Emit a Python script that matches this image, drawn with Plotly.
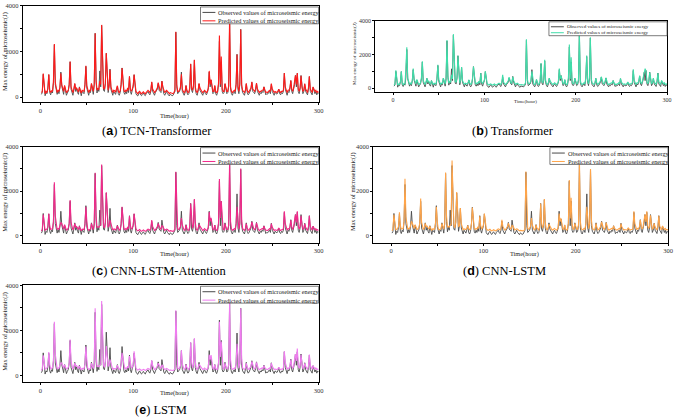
import plotly.graph_objects as go

W, H = 679, 418

hours = list(range(1, 301))

observed = [
    120, 200, 1000, 250, 60, 200, 150, 380, 980, 200,
    100, 250, 180, 650, 2300, 550, 200, 120, 280, 150,
    420, 1100, 480, 300, 120, 480, 250, 80, 180, 260,
    550, 1550, 350, 150, 80, 300, 580, 250, 380, 200,
    120, 450, 180, 60, 250, 200, 150, 550, 1350, 400,
    150, 80, 250, 200, 580, 250, 120, 550, 2800, 650,
    180, 380, 250, 1150, 450, 3150, 750, 300, 250, 600,
    1920, 550, 200, 450, 1230, 350, 150, 80, 250, 200,
    120, 280, 480, 150, 80, 200, 550, 1280, 450, 200,
    120, 250, 150, 380, 200, 900, 250, 120, 300, 450,
    980, 350, 150, 80, 50, 150, 200, 100, 60, 130,
    180, 100, 60, 150, 200, 250, 150, 100, 250, 650,
    250, 150, 80, 200, 250, 350, 600, 300, 250, 200,
    700, 350, 150, 80, 200, 250, 150, 100, 50, 130,
    100, 60, 80, 150, 250, 2850, 450, 150, 200, 250,
    400, 1100, 250, 150, 80, 200, 500, 200, 100, 150,
    350, 1450, 300, 200, 450, 1620, 350, 150, 80, 250,
    580, 300, 200, 150, 80, 200, 250, 150, 100, 200,
    350, 1100, 450, 750, 250, 150, 200, 480, 150, 80,
    200, 550, 2450, 450, 1550, 250, 150, 200, 580, 250,
    150, 200, 450, 3200, 350, 150, 80, 200, 250, 150,
    550, 1880, 350, 150, 550, 2980, 450, 200, 150, 80,
    250, 580, 200, 100, 150, 250, 350, 650, 250, 200,
    150, 300, 600, 250, 150, 80, 200, 150, 250, 200,
    450, 200, 100, 150, 130, 200, 250, 150, 560, 250,
    150, 80, 200, 150, 130, 200, 350, 150, 100, 200,
    150, 250, 1050, 350, 150, 80, 250, 200, 350, 720,
    250, 150, 350, 550, 950, 450, 1050, 250, 150, 350,
    950, 350, 150, 250, 560, 250, 150, 100, 350, 900,
    250, 150, 100, 430, 200, 150, 250, 100, 200, 150,
]

pred_tcn_transformer = [
    200, 250, 1030, 350, 150, 250, 200, 380, 1000, 300,
    200, 280, 250, 650, 2330, 650, 300, 200, 300, 250,
    420, 1050, 550, 380, 250, 520, 300, 200, 250, 300,
    550, 1565, 450, 250, 200, 350, 600, 350, 400, 300,
    220, 420, 250, 180, 300, 280, 250, 550, 1380, 500,
    250, 200, 300, 280, 600, 350, 250, 550, 2800, 750,
    300, 380, 350, 700, 550, 3170, 850, 400, 350, 600,
    1930, 650, 300, 500, 1200, 450, 250, 200, 300, 280,
    220, 320, 500, 250, 200, 280, 550, 1280, 550, 300,
    220, 300, 250, 400, 300, 910, 350, 250, 350, 500,
    990, 450, 250, 200, 150, 220, 250, 180, 150, 200,
    230, 180, 150, 200, 250, 300, 250, 200, 300, 670,
    350, 250, 200, 250, 300, 400, 640, 400, 300, 300,
    700, 450, 250, 200, 250, 300, 250, 200, 150, 200,
    180, 150, 150, 200, 300, 2870, 550, 250, 250, 300,
    450, 1000, 350, 250, 200, 250, 520, 300, 200, 220,
    400, 1460, 400, 300, 500, 1640, 450, 250, 200, 300,
    600, 400, 300, 250, 200, 250, 300, 250, 200, 250,
    400, 1150, 550, 770, 350, 250, 250, 520, 250, 200,
    250, 600, 2700, 550, 1780, 350, 250, 250, 600, 350,
    250, 250, 500, 3560, 450, 250, 200, 250, 300, 250,
    600, 1870, 450, 250, 600, 2970, 550, 300, 250, 200,
    300, 600, 300, 200, 250, 300, 400, 670, 350, 300,
    250, 350, 620, 350, 250, 200, 250, 250, 300, 300,
    450, 300, 200, 220, 200, 250, 300, 250, 590, 350,
    250, 200, 250, 230, 200, 250, 350, 250, 200, 250,
    250, 300, 1060, 450, 250, 200, 300, 300, 400, 740,
    350, 250, 400, 620, 960, 550, 1060, 350, 250, 400,
    940, 450, 250, 300, 590, 350, 250, 200, 400, 910,
    350, 250, 200, 450, 300, 250, 300, 200, 250, 200,
]

pred_transformer = [
    180, 250, 1060, 350, 180, 250, 220, 380, 1000, 300,
    200, 280, 250, 1200, 2430, 600, 300, 220, 300, 250,
    450, 1160, 550, 380, 250, 520, 320, 220, 250, 320,
    600, 1600, 450, 280, 220, 350, 600, 350, 420, 300,
    250, 450, 280, 200, 300, 280, 250, 600, 1390, 500,
    280, 220, 300, 280, 600, 350, 250, 600, 2860, 750,
    300, 400, 350, 800, 550, 3210, 850, 400, 350, 650,
    1940, 650, 300, 550, 1250, 450, 280, 220, 300, 280,
    250, 320, 500, 280, 220, 280, 600, 1290, 550, 300,
    250, 320, 280, 420, 300, 900, 350, 280, 380, 500,
    1000, 450, 280, 220, 180, 230, 260, 200, 180, 220,
    250, 200, 180, 220, 260, 300, 260, 220, 350, 800,
    350, 260, 220, 260, 320, 420, 650, 400, 320, 300,
    680, 450, 280, 220, 260, 300, 260, 220, 180, 220,
    200, 180, 180, 220, 320, 2900, 550, 260, 260, 320,
    480, 1000, 380, 260, 220, 260, 520, 300, 220, 240,
    420, 1490, 420, 300, 520, 1690, 460, 260, 220, 320,
    600, 420, 300, 260, 220, 260, 320, 260, 220, 260,
    420, 1160, 550, 750, 350, 260, 260, 520, 260, 220,
    260, 620, 2600, 550, 1840, 380, 260, 260, 600, 360,
    260, 260, 520, 3290, 460, 260, 220, 260, 320, 260,
    620, 1940, 460, 260, 620, 3020, 560, 300, 260, 220,
    320, 600, 320, 220, 260, 320, 420, 680, 360, 300,
    260, 360, 620, 360, 260, 220, 260, 260, 320, 300,
    460, 300, 220, 240, 220, 260, 320, 260, 580, 360,
    260, 220, 260, 240, 220, 260, 360, 260, 220, 260,
    260, 320, 1120, 460, 260, 220, 320, 300, 420, 750,
    360, 260, 420, 640, 980, 1160, 1000, 360, 260, 420,
    940, 460, 260, 320, 600, 360, 260, 220, 420, 900,
    360, 260, 220, 460, 320, 260, 320, 220, 260, 220,
]

pred_cnn_lstm_attention = [
    200, 300, 950, 500, 250, 280, 300, 400, 1000, 450,
    280, 300, 320, 600, 2400, 900, 400, 280, 320, 300,
    450, 600, 550, 450, 300, 500, 380, 260, 280, 350,
    550, 1600, 600, 320, 260, 350, 550, 400, 420, 350,
    280, 420, 320, 220, 300, 300, 280, 500, 1300, 650,
    300, 250, 300, 300, 550, 400, 280, 500, 2830, 900,
    380, 400, 380, 450, 500, 3200, 1000, 450, 350, 600,
    1950, 800, 380, 450, 700, 550, 300, 250, 300, 300,
    260, 320, 450, 320, 250, 280, 500, 1300, 700, 350,
    260, 320, 280, 400, 320, 880, 450, 300, 350, 480,
    1000, 550, 320, 250, 220, 250, 280, 230, 200, 230,
    260, 230, 200, 230, 270, 300, 280, 240, 320, 700,
    420, 280, 240, 270, 320, 400, 550, 420, 330, 300,
    450, 420, 300, 240, 270, 300, 280, 240, 200, 230,
    220, 200, 200, 230, 300, 2870, 800, 320, 280, 320,
    420, 800, 480, 300, 250, 270, 480, 330, 250, 250,
    400, 1450, 550, 330, 480, 1650, 600, 300, 250, 320,
    500, 430, 320, 270, 240, 270, 320, 280, 240, 270,
    380, 1070, 650, 800, 420, 280, 270, 480, 300, 240,
    270, 550, 2550, 800, 1560, 500, 300, 270, 550, 380,
    280, 280, 480, 3400, 650, 300, 250, 270, 320, 280,
    550, 1300, 600, 300, 550, 3020, 700, 330, 280, 240,
    320, 550, 350, 250, 270, 320, 400, 620, 400, 320,
    280, 350, 580, 380, 280, 240, 270, 270, 320, 300,
    430, 320, 250, 250, 240, 270, 320, 280, 540, 380,
    280, 240, 270, 250, 240, 270, 350, 280, 240, 270,
    270, 320, 1100, 550, 300, 250, 320, 300, 400, 700,
    400, 280, 400, 600, 950, 600, 1100, 450, 300, 420,
    900, 500, 300, 320, 550, 380, 280, 240, 400, 900,
    420, 300, 250, 430, 330, 270, 320, 250, 270, 240,
]

pred_cnn_lstm = [
    220, 320, 950, 480, 260, 300, 320, 420, 1050, 450,
    300, 320, 330, 650, 2560, 850, 420, 300, 330, 320,
    460, 650, 560, 450, 320, 500, 400, 280, 300, 360,
    560, 1670, 600, 340, 280, 360, 560, 420, 430, 360,
    300, 430, 340, 240, 310, 310, 300, 520, 1300, 620,
    320, 270, 310, 310, 560, 420, 300, 520, 2840, 880,
    400, 420, 390, 480, 520, 3380, 950, 460, 360, 620,
    1960, 780, 400, 460, 1250, 540, 320, 270, 310, 310,
    280, 330, 460, 330, 270, 290, 520, 1270, 680, 360,
    280, 330, 300, 410, 330, 880, 460, 320, 360, 490,
    1000, 540, 330, 270, 240, 260, 290, 250, 220, 240,
    270, 250, 220, 240, 280, 310, 290, 260, 330, 720,
    430, 300, 260, 280, 330, 410, 560, 430, 340, 310,
    460, 430, 310, 260, 280, 310, 290, 260, 220, 240,
    230, 220, 220, 240, 310, 2880, 780, 330, 290, 330,
    430, 800, 480, 310, 270, 280, 490, 340, 270, 260,
    410, 1450, 560, 340, 490, 1650, 600, 320, 270, 330,
    520, 440, 330, 280, 260, 280, 330, 290, 260, 280,
    390, 1000, 640, 780, 430, 300, 280, 490, 310, 260,
    280, 560, 2500, 780, 1700, 520, 320, 280, 560, 390,
    300, 290, 490, 3350, 640, 320, 270, 280, 330, 290,
    560, 1300, 600, 320, 560, 3000, 700, 340, 290, 260,
    330, 560, 360, 270, 280, 330, 410, 630, 410, 330,
    290, 360, 590, 390, 290, 260, 280, 280, 330, 310,
    440, 330, 270, 260, 260, 280, 330, 290, 550, 390,
    290, 260, 280, 260, 260, 280, 360, 290, 260, 280,
    280, 330, 1100, 560, 320, 270, 330, 310, 410, 720,
    410, 300, 410, 620, 960, 620, 1100, 460, 320, 430,
    920, 510, 310, 330, 560, 390, 290, 260, 410, 900,
    430, 320, 270, 440, 340, 280, 330, 270, 280, 260,
]

pred_lstm = [
    220, 300, 890, 500, 280, 300, 330, 420, 1040, 480,
    300, 320, 340, 620, 2380, 950, 420, 300, 330, 320,
    450, 550, 560, 460, 320, 480, 400, 280, 300, 360,
    540, 1590, 620, 340, 280, 360, 540, 420, 430, 360,
    300, 420, 340, 240, 310, 310, 300, 500, 1285, 680,
    320, 270, 310, 310, 540, 420, 300, 500, 2980, 950,
    400, 420, 390, 450, 500, 3300, 1050, 460, 360, 600,
    1300, 820, 400, 460, 700, 560, 320, 270, 310, 310,
    280, 330, 450, 330, 270, 290, 500, 1000, 720, 360,
    280, 330, 300, 410, 330, 860, 460, 320, 360, 480,
    1070, 580, 330, 270, 240, 260, 290, 250, 220, 240,
    270, 250, 220, 240, 280, 310, 290, 260, 330, 670,
    440, 300, 260, 280, 330, 410, 540, 440, 340, 310,
    450, 440, 310, 260, 280, 310, 290, 260, 220, 240,
    230, 220, 220, 240, 310, 2890, 850, 330, 290, 330,
    430, 1110, 500, 310, 270, 280, 480, 340, 270, 260,
    400, 1470, 580, 340, 480, 1650, 620, 320, 270, 330,
    500, 440, 330, 280, 260, 280, 330, 290, 260, 280,
    380, 920, 700, 900, 450, 300, 280, 480, 310, 260,
    280, 540, 2380, 820, 1500, 540, 320, 280, 540, 390,
    300, 290, 480, 3300, 700, 320, 270, 280, 330, 290,
    540, 1400, 620, 320, 540, 2980, 720, 340, 290, 260,
    330, 540, 370, 270, 280, 330, 400, 620, 420, 330,
    290, 360, 580, 400, 290, 260, 280, 280, 330, 310,
    430, 340, 270, 260, 260, 280, 330, 290, 540, 400,
    290, 260, 280, 260, 260, 280, 360, 290, 260, 280,
    280, 330, 1070, 580, 320, 270, 330, 310, 400, 700,
    420, 300, 400, 620, 950, 640, 1190, 480, 320, 430,
    920, 520, 310, 330, 540, 400, 290, 260, 400, 930,
    440, 320, 270, 430, 340, 280, 330, 270, 280, 260,
]

models = ["TCN-Transformer", "Transformer", "CNN-LSTM-Attention", "CNN-LSTM", "LSTM"]
letters = ["a", "b", "c", "d", "e"]
predictions = [pred_tcn_transformer, pred_transformer, pred_cnn_lstm_attention,
               pred_cnn_lstm, pred_lstm]
pred_colors = ["#FF1A1A", "#3FDDA9", "#F2288A", "#FFA54A", "#F07CF0"]
obs_color = "#4a4a4a"

obs_name = "Observed values of microseismic energy"
pred_name = "Predicted values of microseismic energy"
x_title = "Time(hour)"
y_title = "Max energy of microseismic(J)"
x_tickvals = [0, 100, 200, 300]
y_tickvals = [0, 2000, 4000]

# panel geometry in pixels: left, right, top, bottom
panels = [
    dict(L=23, R=321, T=2, B=99, xr=[-19, 300], yr=[-217, 4000], small=False,
         ytx=5, xty=113, cap=(158, 128)),
    dict(L=378, R=672, T=17, B=89, xr=[-19.6, 300], yr=[-235, 4000], small=True,
         ytx=357, xty=98, cap=(517, 128)),
    dict(L=23, R=321, T=144, B=241, xr=[-19, 300], yr=[-310, 4000], small=False,
         ytx=5, xty=252, cap=(160, 270)),
    dict(L=376, R=673, T=144, B=241, xr=[-19.4, 300], yr=[-310, 4000], small=False,
         ytx=355, xty=252, cap=(508, 270)),
    dict(L=23, R=321, T=284, B=382, xr=[-19, 300], yr=[-308, 4000], small=False,
         ytx=5, xty=393, cap=(162, 410)),
]

def px(x):
    return x / W

def py(y):
    return 1 - y / H

SERIF = "Liberation Serif"
fig = go.Figure()
shapes = []
annotations = []

for i, (p, model, letter, pred, col) in enumerate(zip(panels, models, letters, predictions, pred_colors)):
    k = "" if i == 0 else str(i + 1)
    xa, ya = "x" + k, "y" + k
    fig.add_trace(go.Scatter(x=hours, y=observed, mode="lines", name=obs_name,
                             line=dict(color=obs_color, width=0.9), xaxis=xa, yaxis=ya,
                             showlegend=False))
    fig.add_trace(go.Scatter(x=hours, y=pred, mode="lines", name=pred_name,
                             line=dict(color=col, width=1.1), xaxis=xa, yaxis=ya,
                             showlegend=False))
    tfs = 6 if p["small"] else 6.5
    common = dict(showline=True, mirror=True, linecolor="black", linewidth=1,
                  showgrid=False, zeroline=False, ticks="outside", ticklen=2,
                  tickcolor="black", tickfont=dict(family=SERIF, size=tfs, color="#333"))
    fig.update_layout(**{
        "xaxis" + k: dict(domain=[px(p["L"]), px(p["R"])], range=p["xr"], anchor=ya,
                          tickvals=x_tickvals, minor=dict(dtick=50, ticks="outside", ticklen=2,
                                                          tickcolor="black"), **common),
        "yaxis" + k: dict(domain=[py(p["B"]), py(p["T"])], range=p["yr"], anchor=xa,
                          tickvals=y_tickvals, minor=dict(dtick=1000, ticks="outside", ticklen=2,
                                                          tickcolor="black"), **common),
    })
    # axis titles
    afs = 5 if p["small"] else 6.3
    annotations.append(dict(x=px(p["ytx"]), y=py((p["T"] + p["B"] - 6) / 2), xref="paper", yref="paper",
                            text=y_title, textangle=-90, showarrow=False,
                            font=dict(family=SERIF, size=afs, color="#222"),
                            xanchor="center", yanchor="middle"))
    annotations.append(dict(x=px((p["L"] + p["R"]) / 2 + 4), y=py(p["xty"]), xref="paper", yref="paper",
                            text=x_title, showarrow=False,
                            font=dict(family=SERIF, size=afs, color="#222"),
                            xanchor="center", yanchor="middle"))
    # caption
    annotations.append(dict(x=px(p["cap"][0]), y=py(p["cap"][1]), xref="paper", yref="paper",
                            text="(<span style='font-family:Liberation Sans'><b>%s</b></span>) %s" % (letter, model),
                            showarrow=False, font=dict(family=SERIF, size=12.5, color="black"),
                            xanchor="center", yanchor="middle"))
    # legend box
    if p["small"]:
        lh, r1, r2, lfs = 14, 5, 11, 5
    else:
        lh, r1, r2, lfs = 17, 5.5, 14, 6.2
    lx0, lx1 = p["R"] - 119, p["R"]
    ly0 = p["T"] + 1
    shapes.append(dict(type="rect", xref="paper", yref="paper",
                       x0=px(lx0), x1=px(lx1), y0=py(ly0), y1=py(ly0 + lh),
                       line=dict(color="#444", width=0.7), fillcolor="white", layer="above"))
    for r, c, nm in ((r1, obs_color, obs_name), (r2, col, pred_name)):
        shapes.append(dict(type="line", xref="paper", yref="paper",
                           x0=px(lx0 + 2), x1=px(lx0 + 15), y0=py(ly0 + r), y1=py(ly0 + r),
                           line=dict(color=c, width=1), layer="above"))
        annotations.append(dict(x=px(lx0 + 16), y=py(ly0 + r), xref="paper", yref="paper",
                                text=nm, showarrow=False, xanchor="left", yanchor="middle",
                                font=dict(family=SERIF, size=lfs, color="#222")))

fig.update_layout(width=W, height=H, margin=dict(l=0, r=0, t=0, b=0),
                  paper_bgcolor="white", plot_bgcolor="white",
                  shapes=shapes, annotations=annotations, showlegend=False)

fig.write_html("out.html")
